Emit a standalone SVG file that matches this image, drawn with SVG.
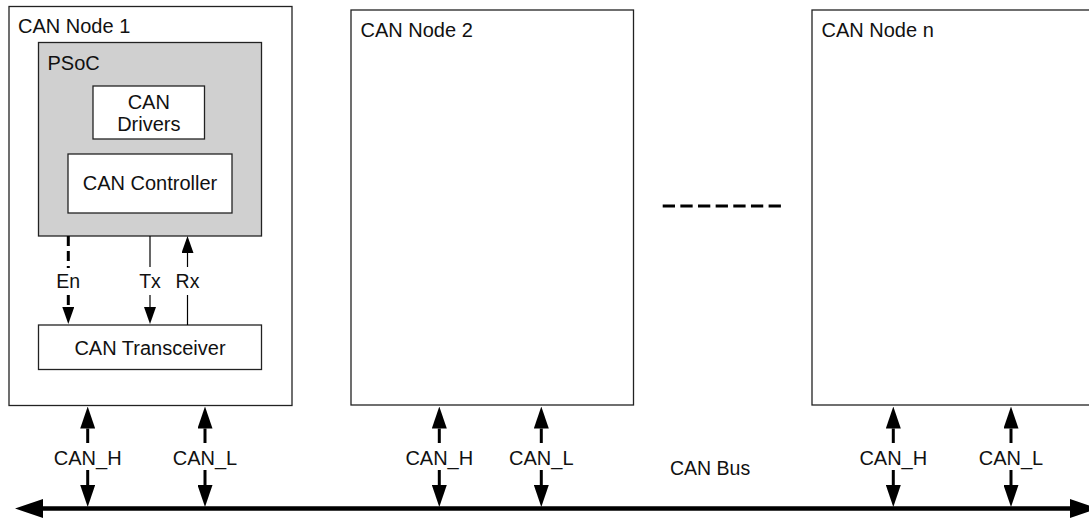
<svg xmlns="http://www.w3.org/2000/svg" width="1089" height="519" viewBox="0 0 1089 519">
<defs>
<style>
.box{fill:#fff;stroke:#222;stroke-width:1.3}
.psoc{fill:#d0d0d0;stroke:#222;stroke-width:1.3}
.t{font-family:"Liberation Sans",Arial,sans-serif;font-size:20px;fill:#111}
.s{font-family:"Liberation Sans",Arial,sans-serif;font-size:19.5px;fill:#111}
.c{text-anchor:middle}
.thick{stroke:#000;stroke-width:3;fill:none}
.thin{stroke:#000;stroke-width:1.2;fill:none}
.dash{stroke:#000;stroke-width:3;fill:none;stroke-dasharray:10 5}
.bus{stroke:#000;stroke-width:4.5;fill:none}
</style>
<marker id="ah" markerUnits="userSpaceOnUse" viewBox="0 0 22 15" refX="0" refY="7.5" markerWidth="22" markerHeight="15" orient="auto"><path d="M0,0 L22,7.5 L0,15 z" fill="#000"/></marker>
<marker id="as" markerUnits="userSpaceOnUse" viewBox="0 0 17 12" refX="0" refY="6" markerWidth="17" markerHeight="12" orient="auto"><path d="M0,0 L17,6 L0,12 z" fill="#000"/></marker>
<marker id="ab" markerUnits="userSpaceOnUse" viewBox="0 0 28 19" refX="0" refY="9.5" markerWidth="28" markerHeight="19" orient="auto"><path d="M0,0 L28,9.5 L0,19 z" fill="#000"/></marker>
</defs>
<rect width="1089" height="519" fill="#fff"/>

<g id="node1">
<rect class="box" x="9" y="6.5" width="283" height="399"/>
<text class="t" x="18" y="33">CAN Node 1</text>
<g id="psoc">
<rect class="psoc" x="38.5" y="42.5" width="223" height="193.5"/>
<text class="t" x="47.5" y="70">PSoC</text>
</g>
<g id="can-drivers">
<rect class="box" x="93" y="86" width="111.5" height="53"/>
<text class="t c" x="148.8" y="108.5">CAN</text>
<text class="t c" x="148.8" y="131">Drivers</text>
</g>
<g id="can-controller">
<rect class="box" x="68" y="154" width="164" height="59"/>
<text class="t c" x="150" y="190">CAN Controller</text>
</g>
<g id="can-transceiver">
<rect class="box" x="38.5" y="325" width="223" height="44.5"/>
<text class="t c" x="150" y="355">CAN Transceiver</text>
</g>
<text class="s c" x="68.3" y="288">En</text>
<text class="s c" x="150" y="288">Tx</text>
<text class="s c" x="187.5" y="288">Rx</text>
</g>

<g id="node2">
<rect class="box" x="351" y="10" width="282.5" height="395"/>
<text class="t" x="360.5" y="36.5">CAN Node 2</text>
</g>

<g id="noden">
<rect class="box" x="812" y="10" width="283" height="395"/>
<text class="t" x="821.5" y="36.5">CAN Node n</text>
</g>

<g id="ellipsis">
<line x1="662.7" y1="206" x2="782.7" y2="206" stroke="#000" stroke-width="3" stroke-dasharray="12.3 5.35"/>
</g>

<g id="connectors">
<line class="dash" x1="68.3" y1="236" x2="68.3" y2="268"/>
<line class="dash" x1="68.3" y1="295" x2="68.3" y2="307" marker-end="url(#as)"/>
<line class="thin" x1="150" y1="236" x2="150" y2="267"/>
<line class="thin" x1="150" y1="295" x2="150" y2="307" marker-end="url(#as)"/>
<line class="thin" x1="187.5" y1="325" x2="187.5" y2="295"/>
<line class="thin" x1="187.5" y1="267" x2="187.5" y2="253" marker-end="url(#as)"/>

<g id="n1-canh">
<line class="thick" x1="87.7" y1="443" x2="87.7" y2="428.5" marker-end="url(#ah)"/>
<line class="thick" x1="87.7" y1="470" x2="87.7" y2="485" marker-end="url(#ah)"/>
</g>
<g id="n1-canl">
<line class="thick" x1="205" y1="443" x2="205" y2="428.5" marker-end="url(#ah)"/>
<line class="thick" x1="205" y1="470" x2="205" y2="485" marker-end="url(#ah)"/>
</g>
<g id="n2-canh">
<line class="thick" x1="439.3" y1="443" x2="439.3" y2="428.5" marker-end="url(#ah)"/>
<line class="thick" x1="439.3" y1="470" x2="439.3" y2="485" marker-end="url(#ah)"/>
</g>
<g id="n2-canl">
<line class="thick" x1="541.3" y1="443" x2="541.3" y2="428.5" marker-end="url(#ah)"/>
<line class="thick" x1="541.3" y1="470" x2="541.3" y2="485" marker-end="url(#ah)"/>
</g>
<g id="nn-canh">
<line class="thick" x1="893.3" y1="443" x2="893.3" y2="428.5" marker-end="url(#ah)"/>
<line class="thick" x1="893.3" y1="470" x2="893.3" y2="485" marker-end="url(#ah)"/>
</g>
<g id="nn-canl">
<line class="thick" x1="1011" y1="443" x2="1011" y2="428.5" marker-end="url(#ah)"/>
<line class="thick" x1="1011" y1="470" x2="1011" y2="485" marker-end="url(#ah)"/>
</g>
<text class="t c" x="87.7" y="465">CAN_H</text>
<text class="t c" x="205" y="465">CAN_L</text>
<text class="t c" x="439.3" y="465">CAN_H</text>
<text class="t c" x="541.3" y="465">CAN_L</text>
<text class="t c" x="893.3" y="465">CAN_H</text>
<text class="t c" x="1011" y="465">CAN_L</text>

<g id="can-bus">
<line class="bus" x1="540" y1="508.5" x2="43" y2="508.5" marker-end="url(#ab)"/>
<line class="bus" x1="540" y1="508.5" x2="1070" y2="508.5" marker-end="url(#ab)"/>
<text class="s" x="670" y="475">CAN Bus</text>
</g>
</g>
</svg>
